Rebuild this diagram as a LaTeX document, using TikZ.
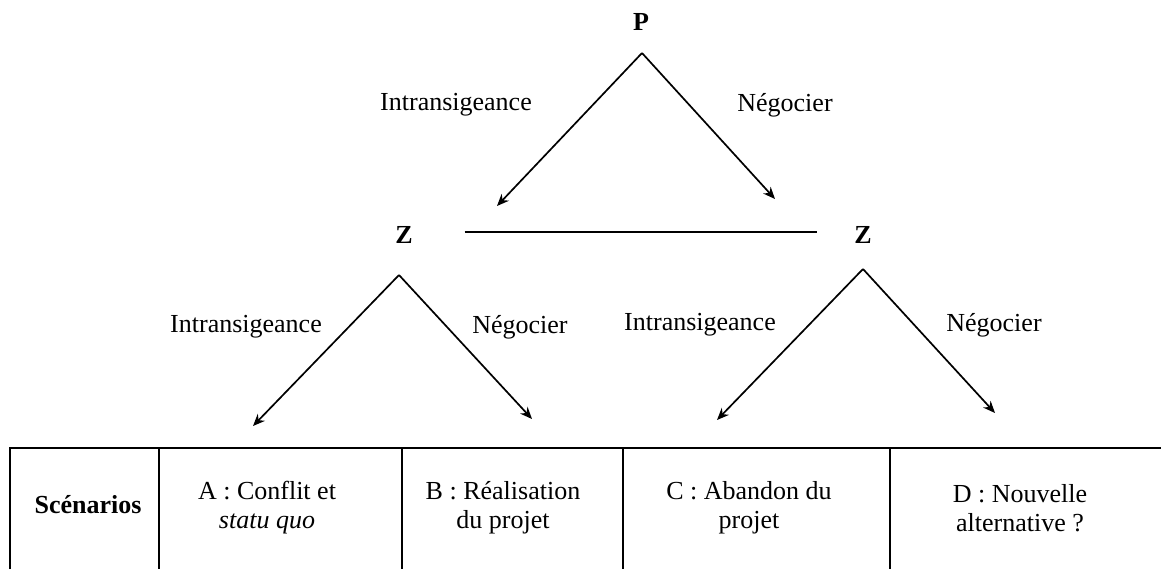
\documentclass[tikz,border=0pt]{standalone}
\usepackage{fontspec}
\setmainfont{Liberation Serif}
\usetikzlibrary{positioning,arrows.meta,calc}

\begin{document}
\begin{tikzpicture}[x=0.5pt, y=-0.5pt, font=\fontsize{13}{14.5}\selectfont,
  player/.style={font=\fontsize{13}{14.5}\selectfont\bfseries},
  move/.style={-{Stealth[length=6pt,width=5pt]}, line width=0.85pt},
  cell/.style={align=center},
  rule/.style={line width=0.9pt}]

\useasboundingbox (0,0) rectangle (1161,569);

% Players
\node[player] (P) at (641,22) {P};
\node[player] (Z1) at (404,235) {Z};
\node[player] (Z2) at (863,235) {Z};

% Branch points and ends
\coordinate (P0) at (642,53);
\coordinate (P1) at (497,206);
\coordinate (P2) at (775,199);
\coordinate (Z10) at (399,275);
\coordinate (Z11) at (253,426);
\coordinate (Z12) at (532,419);
\coordinate (Z20) at (863,269);
\coordinate (Z21) at (717,420);
\coordinate (Z22) at (995,413);

% Arrows
\draw[move] (P0) -- (P1);
\draw[move] (P0) -- (P2);
\draw[move] (Z10) -- (Z11);
\draw[move] (Z10) -- (Z12);
\draw[move] (Z20) -- (Z21);
\draw[move] (Z20) -- (Z22);
\draw[line width=0.85pt, shorten <=22.5pt, shorten >=15pt]
  ([yshift=1.5pt]Z1.east) -- ([yshift=1.5pt]Z2.west);

% Labels
\node (pint) at (456,105) {Intransigeance};
\node (pneg) at (785,105) {Négocier};
\node (z1int) at (246,327) {Intransigeance};
\node (z1neg) at (520,327) {Négocier};
\node (z2int) at (700,325) {Intransigeance};
\node (z2neg) at (994,325) {Négocier};

% Table
\draw[rule] (10,569) -- (10,448) -- (1161,448);
\foreach \x in {159,402,623,890}
  \draw[rule] (\x,448) -- (\x,569);

\node[cell, font=\fontsize{13}{14.5}\selectfont\bfseries] (scen) at (88,505) {Scénarios};
\node[cell] (sA) at (267,508) {A : Conflit et\\\textit{statu quo}};
\node[cell] (sB) at (503,508) {B : Réalisation\\du projet};
\node[cell] (sC) at (749,508) {C : Abandon du\\projet};
\node[cell] (sD) at (1020,508) {D : Nouvelle\\alternative ?};

\end{tikzpicture}
\end{document}
